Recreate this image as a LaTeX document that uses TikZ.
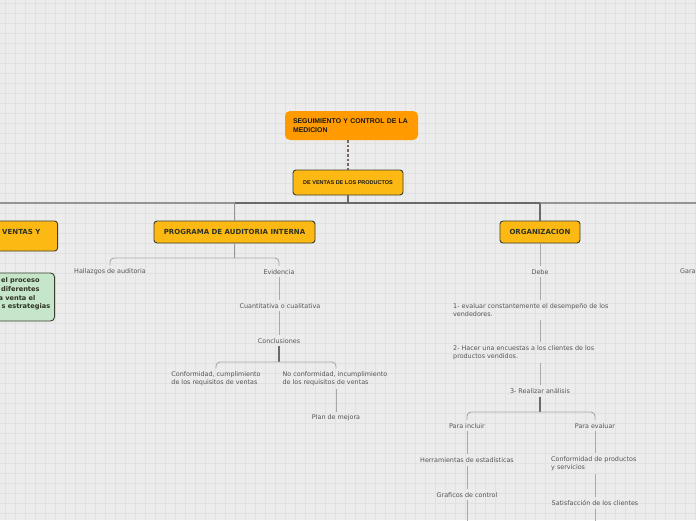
\documentclass[tikz,border=0pt]{standalone}
\usepackage{fontspec}
\setmainfont{DejaVu Sans}
\newfontfamily\arialf{Liberation Sans}
\usetikzlibrary{calc}
\definecolor{bg}{HTML}{ECECEC}
\definecolor{gridc}{HTML}{E1E1E1}
\definecolor{orangeN}{HTML}{FF9A00}
\definecolor{amber}{HTML}{FDB913}
\definecolor{greenN}{HTML}{C6E6CB}
\definecolor{bordc}{HTML}{3A3F2E}
\definecolor{boxtxt}{HTML}{2E3322}
\definecolor{txtg}{HTML}{555555}
\definecolor{lineL}{HTML}{A9A9A9}
\definecolor{lineM}{HTML}{959595}
\definecolor{lineD}{HTML}{6A6A6A}
\definecolor{dotc}{HTML}{74665C}
\begin{document}
\begin{tikzpicture}[x=1pt,y=-1pt,
  lbl/.style={font=\fontsize{6.4}{8.3}\selectfont, text=txtg, inner xsep=1pt, inner ysep=3pt, align=left, yshift=-0.8pt},
  mainbox/.style={draw=bordc, line width=0.9pt, fill=amber, rounded corners=3pt,
     font=\fontsize{7}{8}\selectfont\bfseries, text=boxtxt, inner sep=0pt},
  topbox/.style={fill=orangeN, rounded corners=5pt, inner xsep=8pt, inner ysep=0pt,
     font=\arialf\fontsize{6.9}{9}\selectfont\bfseries, text=black!90, align=left},
  greenbox/.style={draw=bordc, line width=0.9pt, fill=greenN, rounded corners=4pt},
  gtxt/.style={font=\fontsize{6.6}{8}\selectfont\bfseries, text=boxtxt, inner sep=0pt, anchor=west},
  conn/.style={lineL, line width=0.9pt},
  mconn/.style={lineM, line width=1.2pt},
  dconn/.style={lineD, line width=1.4pt},
  brk/.style={lineL, line width=0.9pt, rounded corners=4pt},
]
\useasboundingbox (0,0) rectangle (696,520);
\clip (0,0) rectangle (696,520);
\fill[bg] (0,0) rectangle (696,520);
\foreach \i in {5,15,...,695} \draw[gridc, line width=0.8pt] (\i,0) -- (\i,520);
\foreach \j in {3,13,...,513} \draw[gridc, line width=0.8pt] (0,\j) -- (696,\j);

% top nodes
\node[topbox, minimum width=133, minimum height=29, text width=117] (top) at (351.5,125.5)
  {SEGUIMIENTO Y CONTROL DE LA\\MEDICION};
\node[mainbox, minimum width=110, minimum height=25, font=\arialf\fontsize{5.5}{6}\selectfont\bfseries, text=black!90] (sub) at (348,182.5)
  {DE VENTAS DE LOS PRODUCTOS};
\draw[dotc, line width=2pt, dash pattern=on 2.6pt off 2pt] (sub.north |- top.south) -- (sub.north);

% level 1
\node[mainbox, minimum width=108, minimum height=30, anchor=east] (ventas) at (58,236) {};
\node[font=\fontsize{7}{8}\selectfont\bfseries, text=boxtxt, inner sep=0pt, anchor=west] (ventasT) at (2,232) {VENTAS Y};
\node[mainbox, minimum width=161, minimum height=22] (prog) at (234.5,232) {PROGRAMA DE AUDITORIA INTERNA};
\node[mainbox, minimum width=80, minimum height=22] (org) at (540,232) {ORGANIZACION};

\coordinate (barL) at (0,203);
\coordinate (barR) at (696,203);
\draw[dconn] (sub.south) -- (sub.south |- barL);
\draw[lineM, line width=2pt] (barL) -- (prog.north |- barL);
\draw[lineD, line width=2pt] (prog.north |- barL) -- (org.north |- barL);
\draw[lineM, line width=2pt] (org.north |- barL) -- (barR);
\draw[mconn] (prog.north |- barL) -- (prog.north);
\draw[dconn] (org.north |- barL) -- (org.north);

% green box
\node[greenbox, minimum width=100, minimum height=48, anchor=east] (green) at (55,297) {};
\node[gtxt] (g1) at (1,281) {el proceso};
\node[gtxt] (g2) at (1,289.5) {diferentes};
\node[gtxt] (g3) at (-1.6,298) {a venta el};
\node[gtxt] (g4) at (1.5,306.5) {s estrategias};

% auditoria branch
\node[lbl] (hall) at (110,271) {Hallazgos de auditoria};
\node[lbl] (evid) at (279,271) {Evidencia};
\node[lbl] (cuan) at (280,305) {Cuantitativa o cualitativa};
\node[lbl] (concl) at (279,340) {Conclusiones};
\node[lbl] (conf) at (216,378) {Conformidad, cumplimiento\\de los requisitos de ventas};
\node[lbl] (noconf) at (335,378) {No conformidad, incumplimiento\\de los requisitos de ventas};
\node[lbl] (plan) at (336,417) {Plan de mejora};

\coordinate (b1) at (235,258);
\draw[mconn] (prog.south) -- (prog.south |- b1);
\draw[brk] (hall.north) -- (hall.north |- b1) -- (evid.north |- b1) -- (evid.north);
\draw[conn] (evid.south) -- (evid.south |- cuan.north);
\draw[conn] (evid.south |- cuan.south) -- (evid.south |- concl.north);
\coordinate (b2) at (279,362);
\draw[dconn] (concl.south) -- (concl.south |- b2);
\draw[brk] (conf.north) -- (conf.north |- b2) -- (plan.north |- b2) -- (plan.north |- noconf.north);
\draw[conn] (plan.north |- noconf.south) -- (plan.north);

% organizacion branch
\node[lbl] (debe) at (540,271) {Debe};
\node[lbl, anchor=west] (e1) at (452,309) {1- evaluar constantemente el desempeño de los\\vendedores.};
\node[lbl, anchor=west] (e2) at (452,352) {2- Hacer una encuestas a los clientes de los\\productos vendidos.};
\node[lbl] (e3) at (540,390) {3- Realizar análisis};
\node[lbl] (inc) at (467,425) {Para incluir};
\node[lbl] (eva) at (595,425) {Para evaluar};
\node[lbl] (herr) at (467,459) {Herramientas de estadísticas};
\node[lbl] (graf) at (467,494) {Graficos de control};
\node[lbl, anchor=west] (confp) at (550,463) {Conformidad de productos\\y servicios};
\node[lbl] (sat) at (595,502) {Satisfacción de los clientes};
\node[lbl, anchor=west] (gara) at (679,270) {Gara};

\draw[conn] (org.south) -- (debe.north);
\draw[conn] (debe.south) -- (debe.south |- e1.north);
\draw[conn] (debe.south |- e1.south) -- (debe.south |- e2.north);
\draw[conn] (debe.south |- e2.south) -- (e3.north);
\coordinate (b3) at (540,412);
\draw[dconn] (e3.south) -- (e3.south |- b3);
\draw[brk] (inc.north) -- (inc.north |- b3) -- (eva.north |- b3) -- (eva.north);
\draw[conn] (inc.south) -- (herr.north);
\draw[conn] (herr.south) -- (graf.north);
\coordinate (endG) at (467,521);
\draw[conn] (graf.south) -- (endG);
\draw[conn] (eva.south) -- (eva.south |- confp.north);
\draw[conn] (eva.south |- confp.south) -- (sat.north);
\coordinate (endS) at (595,521);
\draw[conn] (sat.south) -- (endS);
\end{tikzpicture}
\end{document}
